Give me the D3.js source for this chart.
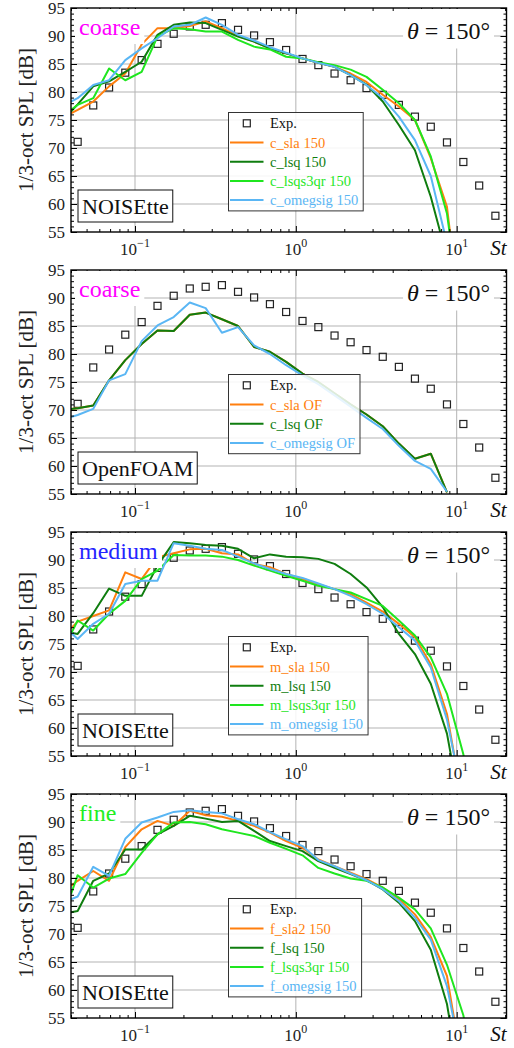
<!DOCTYPE html>
<html lang="en">
<head>
<meta charset="UTF-8">
<title>1/3-oct SPL, theta = 150</title>
<script src="https://cdn.jsdelivr.net/npm/d3@7/dist/d3.min.js"></script>
<style>
  body { margin: 0; background: #fff; }
  svg { display: block; font-family: "Liberation Serif", "DejaVu Serif", serif; }
</style>
</head>
<body>
<svg id="fig" width="514" height="1048"></svg>
<script>
// experiment (same in every panel)
const stExp = [0.044, 0.055, 0.069, 0.087, 0.11, 0.138, 0.174, 0.219, 0.275, 0.347, 0.437, 0.55, 0.69, 0.87,
               1.10, 1.38, 1.74, 2.19, 2.75, 3.47, 4.37, 5.5, 6.9, 8.7, 11.0, 13.8, 17.4];
const splExp = [71.1, 77.6, 80.8, 83.45, 85.7, 88.6, 90.4, 91.7, 92.0, 92.3, 91.1, 90.1, 88.9, 87.5,
                85.9, 84.8, 83.3, 82.1, 80.7, 79.5, 77.7, 75.6, 73.8, 71.0, 67.5, 63.3, 57.9];

// Strouhal values of the simulation spectra
const stSim = [0.04, 0.044, 0.055, 0.069, 0.087, 0.11, 0.138, 0.174, 0.219, 0.275, 0.347, 0.437, 0.55, 0.69,
               0.87, 1.10, 1.38, 1.74, 2.19, 2.75, 3.47, 4.37, 5.5, 6.9, 8.7, 11.0, 13.8];

// coarse, NOISEtte
const cSla150 = [76.2, 76.8, 78.3, 81.0, 83.3, 88.5, 91.4, 91.4, 91.8, 92.6, 91.4, 90.0, 89.0, 87.8,
                 86.9, 86.0, 85.2, 84.5, 83.3, 81.8, 79.5, 77.4, 75.0, 68.2, 59.5, 35];
const cLsq150 = [76.5, 77.8, 81.0, 81.9, 83.6, 85.4, 90.2, 92.0, 92.4, 92.3, 91.1, 89.9, 89.0, 87.8,
                 86.9, 86.0, 85.2, 84.5, 83.0, 81.3, 78.3, 74.1, 69.6, 61.3, 50.5];
const cLsqs3qr150 = [76.8, 77.7, 78.9, 84.2, 82.1, 83.6, 89.9, 91.4, 91.2, 90.8, 90.8, 89.3, 88.1, 87.6,
                     86.3, 86.0, 85.3, 84.8, 84.0, 82.7, 80.4, 78.0, 75.0, 68.5, 58.3, 37];
const cOmegsig150 = [78.3, 78.9, 81.25, 82.1, 85.7, 87.8, 89.6, 91.7, 92.0, 93.3, 92.0, 90.2, 89.2, 88.0,
                     87.0, 86.0, 85.2, 84.5, 83.0, 81.25, 78.9, 75.6, 71.4, 65.0, 53.0];

// coarse, OpenFOAM
const cSlaOF = [70.2, 70.3, 70.8, 75.3, 78.9, 81.8, 84.2, 84.1, 87.0, 87.4, 86.2, 85.0, 81.25, 80.4,
                78.6, 76.5, 75.0, 73.0, 71.0, 69.2, 67.1, 64.0, 61.3, 62.2, 55.3];
const cLsqOF = [70.2, 70.3, 70.8, 75.3, 78.9, 81.8, 84.2, 84.1, 87.0, 87.4, 86.2, 85.0, 81.25, 80.4,
                78.6, 76.5, 75.0, 73.0, 71.0, 69.2, 67.1, 64.0, 61.3, 62.2, 55.3];
const cOmegsigOF = [68.75, 69.1, 70.2, 75.3, 76.4, 82.3, 85.1, 86.6, 89.2, 88.2, 83.8, 84.8, 81.55, 80.0,
                    78.0, 76.2, 74.6, 72.6, 70.6, 68.6, 66.6, 63.6, 60.9, 59.5, 55.4];

// medium, NOISEtte
const mSla150 = [77.8, 79.0, 80.0, 81.0, 87.8, 86.6, 90.5, 91.2, 91.9, 92.0, 91.2, 91.0, 89.3, 88.7,
                 87.5, 86.6, 85.7, 84.8, 83.9, 82.4, 80.8, 78.6, 76.2, 71.4, 62.5, 46];
const mLsq150 = [77.0, 76.8, 80.5, 84.9, 83.6, 83.6, 89.0, 93.2, 93.0, 92.7, 92.55, 92.0, 90.3, 91.0,
                 90.6, 90.5, 90.2, 89.3, 87.5, 85.1, 81.6, 76.8, 73.2, 67.9, 59.0, 43];
const mLsqs3qr150 = [76.8, 79.2, 77.4, 80.4, 82.7, 86.6, 88.1, 90.9, 90.8, 90.8, 90.6, 90.0, 89.0, 88.1,
                     87.2, 86.3, 85.4, 84.8, 84.2, 83.0, 81.8, 79.2, 76.5, 72.6, 66.1, 55.3, 40];
const mOmegsig150 = [77.0, 75.9, 78.6, 80.4, 85.7, 86.3, 86.3, 93.0, 92.55, 92.0, 91.8, 90.6, 89.4, 88.4,
                     87.5, 86.8, 85.8, 84.8, 83.6, 82.1, 80.4, 78.0, 75.6, 70.8, 61.5, 47];

// fine, NOISEtte
const fSla2150 = [78.6, 79.5, 81.25, 79.5, 85.5, 88.7, 90.2, 89.3, 92.0, 91.2, 90.95, 90.2, 89.3, 88.1,
                  86.6, 85.4, 83.3, 82.1, 80.95, 79.8, 78.3, 76.25, 73.5, 69.5, 62.5, 45];
const fLsq150 = [73.9, 74.1, 79.5, 80.8, 85.1, 85.1, 87.8, 89.3, 91.1, 90.6, 90.0, 90.2, 88.4, 86.6,
                 85.7, 84.8, 83.0, 81.8, 80.7, 79.6, 77.95, 75.6, 72.3, 67.2, 57.5, 40];
const fLsqs3qr150 = [77.1, 80.5, 78.3, 79.9, 80.7, 84.5, 87.8, 89.9, 90.0, 89.6, 88.7, 88.1, 87.5, 86.3,
                     85.2, 84.05, 81.8, 80.8, 79.9, 79.5, 78.3, 76.5, 74.4, 71.0, 64.5, 55.5, 40];
const fOmegsig150 = [76.2, 76.7, 82.0, 80.4, 87.0, 89.9, 90.8, 91.8, 92.1, 91.8, 91.55, 90.5, 89.6, 88.2,
                     86.9, 85.7, 83.2, 82.1, 80.8, 79.6, 78.0, 75.9, 72.9, 69.0, 60.7, 46];

// ticks
const yTicks = [55, 60, 65, 70, 75, 80, 85, 90, 95];
const xDecades = [0.1, 1, 10];
const xExponents = ["\u22121", "0", "1"];

const orange = "#ff7f0e", dkgreen = "#0f7d0f", lime = "#1fe61f", sky = "#5ab6f4";

const panels = [
  { mesh: "coarse", meshColor: "#ff00ff", code: "NOISEtte", series: [
      { name: "c_sla 150", color: orange, v: cSla150 },
      { name: "c_lsq 150", color: dkgreen, v: cLsq150 },
      { name: "c_lsqs3qr 150", color: lime, v: cLsqs3qr150 },
      { name: "c_omegsig 150", color: sky, v: cOmegsig150 }] },
  { mesh: "coarse", meshColor: "#ff00ff", code: "OpenFOAM", series: [
      { name: "c_sla OF", color: orange, v: cSlaOF },
      { name: "c_lsq OF", color: dkgreen, v: cLsqOF },
      { name: "c_omegsig OF", color: sky, v: cOmegsigOF }] },
  { mesh: "medium", meshColor: "#2424ff", code: "NOISEtte", series: [
      { name: "m_sla 150", color: orange, v: mSla150 },
      { name: "m_lsq 150", color: dkgreen, v: mLsq150 },
      { name: "m_lsqs3qr 150", color: lime, v: mLsqs3qr150 },
      { name: "m_omegsig 150", color: sky, v: mOmegsig150 }] },
  { mesh: "fine", meshColor: "#22ee22", code: "NOISEtte", series: [
      { name: "f_sla2 150", color: orange, v: fSla2150 },
      { name: "f_lsq 150", color: dkgreen, v: fLsq150 },
      { name: "f_lsqs3qr 150", color: lime, v: fLsqs3qr150 },
      { name: "f_omegsig 150", color: sky, v: fOmegsig150 }] }
];

// layout of one panel
const panelH = 262;
const L = 71, R = 506.5, T = 8, B = 232;

const svg = d3.select("#fig");

const x = d3.scaleLog().domain([0.04, 20.4]).range([L, R]);
const y = d3.scaleLinear().domain([55, 95]).range([B, T]);

svg.append("defs").append("clipPath").attr("id", "plotClip")
  .append("rect").attr("x", L).attr("y", T).attr("width", R - L).attr("height", B - T);

const line = d3.line().x(d => x(d[0])).y(d => y(d[1]));

const xMinor = x.ticks().filter(t => !xDecades.some(d => Math.abs(d - t) < 1e-9));
const yMinor = d3.range(55, 96).filter(v => v % 5 !== 0);

panels.forEach((p, i) => {
  const g = svg.append("g").attr("transform", `translate(0,${i * panelH})`);

  // grid
  g.append("g").selectAll("line").data(yTicks.slice(1, -1)).join("line")
    .attr("x1", L).attr("x2", R).attr("y1", d => y(d)).attr("y2", d => y(d))
    .attr("stroke", "#b3b3b3").attr("stroke-width", 1);
  g.append("g").selectAll("line").data(xDecades).join("line")
    .attr("x1", d => x(d)).attr("x2", d => x(d)).attr("y1", T).attr("y2", B)
    .attr("stroke", "#b3b3b3").attr("stroke-width", 1);

  // experiment squares
  g.append("g").selectAll("rect").data(stExp.map((s, j) => [s, splExp[j]])).join("rect")
    .attr("x", d => x(d[0]) - 3.5).attr("y", d => y(d[1]) - 3.5)
    .attr("width", 7).attr("height", 7)
    .attr("fill", "none").attr("stroke", "#222").attr("stroke-width", 1.2);

  // simulation lines
  const lg = g.append("g").attr("clip-path", "url(#plotClip)");
  p.series.forEach(s => {
    lg.append("path")
      .datum(s.v.map((v, j) => [stSim[j], v]))
      .attr("d", line)
      .attr("fill", "none").attr("stroke", s.color)
      .attr("stroke-width", 2).attr("stroke-linejoin", "round");
  });

  // ticks on four sides, pointing in
  const tickAxes = [
    [d3.axisLeft, `translate(${L},0)`, y, yTicks, yMinor],
    [d3.axisRight, `translate(${R},0)`, y, yTicks, yMinor],
    [d3.axisBottom, `translate(0,${B})`, x, xDecades, xMinor],
    [d3.axisTop, `translate(0,${T})`, x, xDecades, xMinor]
  ];
  tickAxes.forEach(([axis, tr, sc, major, minor]) => {
    const a1 = g.append("g").attr("transform", tr)
      .call(axis(sc).tickValues(major).tickSize(-6).tickFormat(""));
    const a2 = g.append("g").attr("transform", tr)
      .call(axis(sc).tickValues(minor).tickSize(-3).tickFormat(""));
    [a1, a2].forEach(a => {
      a.select(".domain").remove();
      a.selectAll("line").attr("stroke", "#000").attr("stroke-width", 1);
    });
  });

  g.append("rect").attr("x", L).attr("y", T).attr("width", R - L).attr("height", B - T)
    .attr("fill", "none").attr("stroke", "#000").attr("stroke-width", 1.4);

  // tick labels
  g.append("g").selectAll("text").data(yTicks).join("text")
    .attr("x", L - 6).attr("y", d => y(d)).attr("dy", "0.35em")
    .attr("text-anchor", "end").attr("font-size", 17).attr("fill", "#222")
    .text(d => d);

  const xl = g.append("g").selectAll("text").data(xDecades).join("text")
    .attr("x", d => x(d)).attr("y", B + 23)
    .attr("text-anchor", "middle").attr("font-size", 17).attr("fill", "#222");
  xl.append("tspan").text("10");
  xl.append("tspan").attr("font-size", 12).attr("dy", -8).text((d, j) => xExponents[j]);

  g.append("text").attr("x", R).attr("y", B + 23).attr("text-anchor", "end")
    .attr("font-size", 21).attr("font-style", "italic").attr("fill", "#111").text("St");

  g.append("text")
    .attr("transform", `translate(33,${(T + B) / 2}) rotate(-90)`)
    .attr("text-anchor", "middle").attr("font-size", 21).attr("fill", "#222")
    .text("1/3-oct SPL [dB]");

  // mesh label with white box
  const meshBox = g.append("rect").attr("fill", "#fff");
  const meshText = g.append("text").attr("x", 79).attr("y", T + 27)
    .attr("font-size", 24).attr("fill", p.meshColor).text(p.mesh);
  const mb = meshText.node().getBBox();
  meshBox.attr("x", mb.x - 4).attr("y", T + 1).attr("width", mb.width + 8).attr("height", mb.y + mb.height + 4 - T - 1);

  // theta label with white box
  const thBox = g.append("rect").attr("fill", "#fff");
  const thText = g.append("text").attr("x", 490).attr("y", T + 30.5)
    .attr("text-anchor", "end").attr("font-size", 24).attr("fill", "#111");
  thText.append("tspan").attr("font-style", "italic").text("θ");
  thText.append("tspan").text(" = 150°");
  const tb = thText.node().getBBox();
  thBox.attr("x", tb.x - 4).attr("y", T + 1).attr("width", tb.width + 8).attr("height", tb.y + tb.height + 5 - T - 1);

  // code name box
  const codeBox = g.append("rect").attr("fill", "#fff").attr("stroke", "#111").attr("stroke-width", 1);
  const codeText = g.append("text").attr("x", 82).attr("y", 213.5)
    .attr("font-size", 22).attr("fill", "#111").text(p.code);
  const cb = codeText.node().getBBox();
  codeBox.attr("x", 78).attr("y", 190).attr("width", cb.width + 8).attr("height", 32);

  // legend
  const rowH = 19.2, legTop = 112.5, legLeft = 228.5;
  const rows = [{ name: "Exp.", color: "#111", exp: true }].concat(p.series);
  const leg = g.append("g");
  const legBox = leg.append("rect").attr("fill", "#fff").attr("fill-opacity", 0.85)
    .attr("stroke", "#333").attr("stroke-width", 1);
  let maxRight = 0;
  rows.forEach((r, k) => {
    const cy = legTop + 10.8 + k * rowH;
    if (r.exp) {
      leg.append("rect").attr("x", 243.3).attr("y", cy - 3.5).attr("width", 7).attr("height", 7)
        .attr("fill", "none").attr("stroke", "#222").attr("stroke-width", 1.2);
    } else {
      leg.append("line").attr("x1", 230).attr("x2", 263.5).attr("y1", cy).attr("y2", cy)
        .attr("stroke", r.color).attr("stroke-width", 2);
    }
    const t = leg.append("text").attr("x", 270).attr("y", cy + 5)
      .attr("font-size", 14.5).attr("fill", r.color).text(r.name);
    const bb = t.node().getBBox();
    maxRight = Math.max(maxRight, bb.x + bb.width);
  });
  legBox.attr("x", legLeft).attr("y", legTop)
    .attr("width", maxRight + 5 - legLeft).attr("height", 21.6 + (rows.length - 1) * rowH);
});
</script>
</body>
</html>
